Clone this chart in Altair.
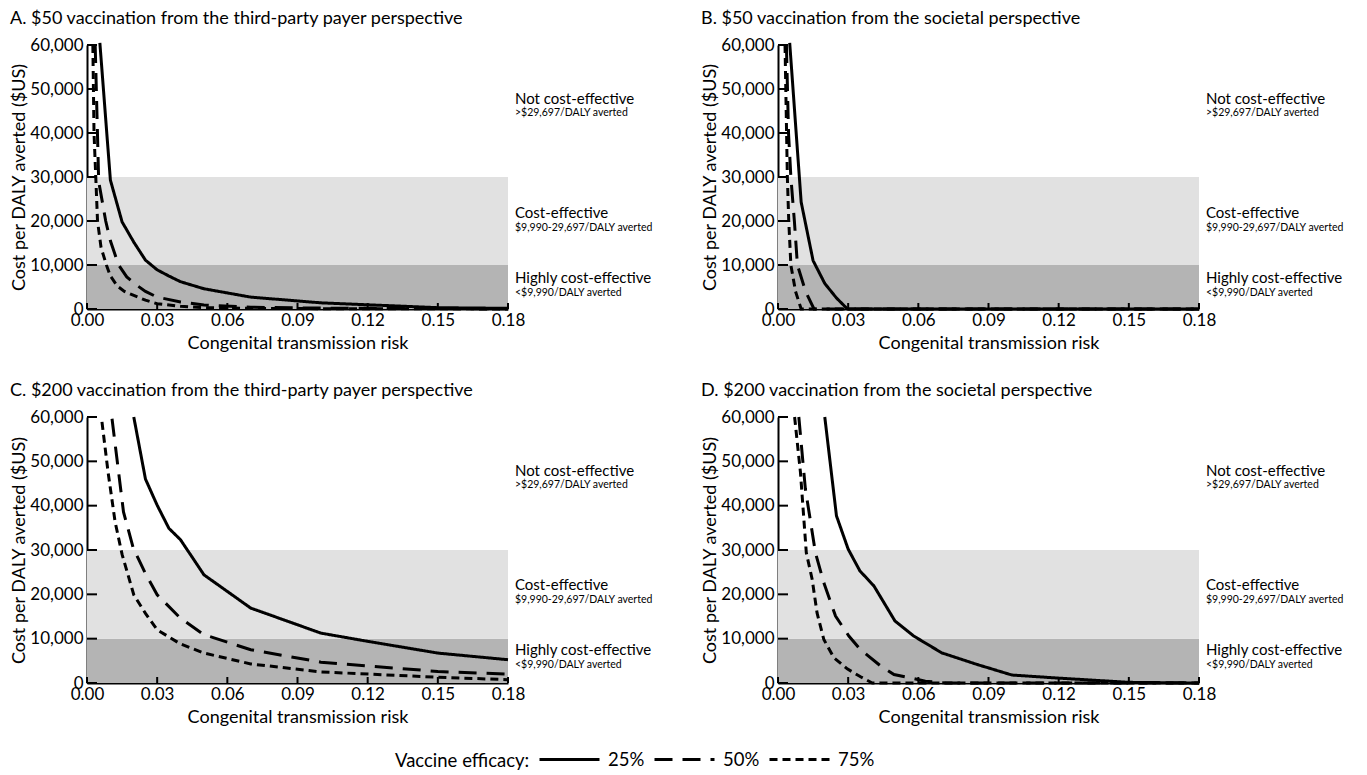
import altair as alt
import pandas as pd

FONT = "Lato"
W = 421
H_TOP = 264
H_BOT = 266

EFFICACY = ["25%", "50%", "75%"]
LEGEND_TITLE = "Vaccine efficacy:"

# Panel A: $50, third-party payer
a25_x = [0.0055, 0.010, 0.015, 0.020, 0.025, 0.030, 0.035, 0.040, 0.050, 0.070, 0.100, 0.150, 0.180]
a25_y = [60500, 29300, 19800, 15200, 11100, 8900, 7500, 6200, 4600, 2700, 1400, 300, 150]
a50_x = [0.0035, 0.005, 0.008, 0.010, 0.0135, 0.017, 0.021, 0.025, 0.030, 0.040, 0.050, 0.070, 0.100, 0.150, 0.180]
a50_y = [60000, 29000, 20000, 15500, 10000, 7300, 5500, 4000, 2700, 1600, 900, 400, 200, 100, 50]
a75_x = [0.0025, 0.003, 0.0045, 0.006, 0.0083, 0.010, 0.013, 0.016, 0.020, 0.025, 0.030, 0.040, 0.050, 0.070, 0.100, 0.150, 0.180]
a75_y = [60000, 40000, 20000, 14000, 10000, 7500, 5200, 4000, 3100, 2000, 1200, 600, 300, 150, 80, 40, 20]

# Panel B: $50, societal
b25_x = [0.005, 0.0099, 0.015, 0.020, 0.025, 0.0297, 0.060, 0.090, 0.120, 0.150, 0.180]
b25_y = [60500, 24300, 11000, 5800, 2500, 0, 0, 0, 0, 0, 0]
b50_x = [0.0036, 0.0045, 0.0055, 0.007, 0.0083, 0.0118, 0.0154, 0.060, 0.120, 0.180]
b50_y = [60000, 40000, 30000, 20000, 10000, 4000, 0, 0, 0, 0]
b75_x = [0.003, 0.004, 0.0046, 0.0055, 0.0075, 0.0099, 0.060, 0.120, 0.180]
b75_y = [60000, 30000, 20000, 10000, 4000, 0, 0, 0, 0]

# Panel C: $200, third-party payer
c25_x = [0.020, 0.025, 0.030, 0.035, 0.040, 0.050, 0.070, 0.100, 0.120, 0.150, 0.180]
c25_y = [60000, 46000, 40100, 34900, 32300, 24400, 16900, 11250, 9400, 6750, 5250]
c50_x = [0.0107, 0.0156, 0.0198, 0.0247, 0.030, 0.040, 0.050, 0.070, 0.100, 0.150, 0.180]
c50_y = [59600, 38600, 30400, 25000, 19900, 14600, 10900, 7500, 4700, 2600, 2000]
c75_x = [0.0064, 0.009, 0.012, 0.015, 0.020, 0.025, 0.030, 0.040, 0.050, 0.070, 0.100, 0.150, 0.180]
c75_y = [58900, 47600, 36400, 29000, 19900, 15700, 12000, 8800, 6750, 4300, 2500, 1300, 750]

# Panel D: $200, societal
d25_x = [0.020, 0.025, 0.030, 0.035, 0.041, 0.050, 0.058, 0.070, 0.085, 0.100, 0.120, 0.150, 0.180]
d25_y = [60000, 37700, 30200, 25300, 21900, 14000, 10600, 6800, 4200, 1800, 1100, 150, 0]
d50_x = [0.0089, 0.0117, 0.016, 0.0196, 0.0246, 0.0303, 0.0353, 0.044, 0.0496, 0.057, 0.063, 0.072, 0.120, 0.180]
d50_y = [60000, 43800, 29400, 22600, 15100, 10600, 7500, 3800, 1900, 1100, 400, 0, 0, 0]
d75_x = [0.0071, 0.0096, 0.0121, 0.0146, 0.0167, 0.0196, 0.0239, 0.0296, 0.0353, 0.0403, 0.100, 0.180]
d75_y = [60000, 47500, 29400, 23400, 15800, 9800, 5700, 3200, 1400, 0, 0, 0]

titles = [
    "A. $50 vaccination from the third-party payer perspective",
    "B. $50 vaccination from the societal perspective",
    "C. $200 vaccination from the third-party payer perspective",
    "D. $200 vaccination from the societal perspective",
]

x_ticks = [0.0, 0.03, 0.06, 0.09, 0.12, 0.15, 0.18]
y_ticks = [0, 10000, 20000, 30000, 40000, 50000, 60000]

band_names = ["Highly cost-effective", "Cost-effective"]
band_lo = [0, 10000]
band_hi = [10000, 30000]

zone_labels = ["Not cost-effective", "Cost-effective", "Highly cost-effective"]
zone_ranges = [">$29,697/DALY averted", "$9,990-29,697/DALY averted", "<$9,990/DALY averted"]

X_MAX = x_ticks[-1]
Y_MAX = y_ticks[-1]


def make_panel(title, series, H, legend_label=False):
    rows = []
    for eff, (xs, ys) in zip(EFFICACY, series):
        for xv, yv in zip(xs, ys):
            rows.append({"x": xv, "y": yv, "eff": eff})
    df = pd.DataFrame(rows)

    xscale = alt.Scale(domain=[0, X_MAX], nice=False)
    yscale = alt.Scale(domain=[0, Y_MAX], nice=False)
    xaxis = alt.Axis(values=x_ticks, format=".2f", title="Congenital transmission risk",
                     labelPadding=3, titlePadding=6, labelFlush=False)
    yaxis = alt.Axis(values=y_ticks, format=",.0f", title="Cost per DALY averted ($US)",
                     labelPadding=4, titlePadding=1, labelFlush=False)
    X = alt.X("x:Q", scale=xscale, axis=xaxis)
    Y = alt.Y("y:Q", scale=yscale, axis=yaxis)

    bands = pd.DataFrame({"x": [0.0, 0.0], "x2": [X_MAX, X_MAX],
                          "y": band_lo, "y2": band_hi, "band": band_names})
    band_layer = alt.Chart(bands).mark_rect().encode(
        x=X, x2="x2:Q", y=Y, y2="y2:Q",
        fill=alt.Fill("band:N", scale=alt.Scale(domain=band_names, range=["#b4b4b4", "#e1e1e1"]),
                      legend=None),
    )

    lines = alt.Chart(df).mark_line(color="black", strokeWidth=3, strokeCap="butt").encode(
        x=X, y=Y,
        strokeDash=alt.StrokeDash(
            "eff:N",
            scale=alt.Scale(domain=EFFICACY, range=[[1, 0], [18, 10], [8, 5]]),
            legend=alt.Legend(title=None),
        ),
    )

    yt = alt.Chart(pd.DataFrame({"y": y_ticks})).mark_rule(color="black", strokeWidth=2).encode(
        y=Y, x=alt.value(0), x2=alt.value(10))
    xt = alt.Chart(pd.DataFrame({"x": x_ticks})).mark_rule(color="black", strokeWidth=2).encode(
        x=X, y=alt.value(H), y2=alt.value(H - 6))

    big_y = [54, 168, 233]
    small_y = [68, 183, 248]
    texts = []
    for lab, py in zip(zone_labels, big_y):
        texts.append(alt.Chart(pd.DataFrame({"t": [lab]})).mark_text(
            align="left", baseline="middle", fontSize=15, font=FONT, color="black").encode(
            x=alt.value(W + 7), y=alt.value(py), text="t:N"))
    for lab, py in zip(zone_ranges, small_y):
        texts.append(alt.Chart(pd.DataFrame({"t": [lab]})).mark_text(
            align="left", baseline="middle", fontSize=10.5, font=FONT, color="black").encode(
            x=alt.value(W + 7), y=alt.value(py), text="t:N"))
    if legend_label:
        texts.append(alt.Chart(pd.DataFrame({"t": [LEGEND_TITLE]})).mark_text(
            align="left", baseline="middle", fontSize=18.5, font=FONT, color="black").encode(
            x=alt.value(308), y=alt.value(H + 78), text="t:N"))

    return alt.layer(band_layer, lines, yt, xt, *texts).properties(
        width=W, height=H,
        title=alt.TitleParams(title, anchor="start", frame="group", dx=-77, offset=8,
                              fontSize=18, fontWeight="normal", font=FONT, color="black"),
    )


pA = make_panel(titles[0], [(a25_x, a25_y), (a50_x, a50_y), (a75_x, a75_y)], H_TOP)
pB = make_panel(titles[1], [(b25_x, b25_y), (b50_x, b50_y), (b75_x, b75_y)], H_TOP)
pC = make_panel(titles[2], [(c25_x, c25_y), (c50_x, c50_y), (c75_x, c75_y)], H_BOT, legend_label=True)
pD = make_panel(titles[3], [(d25_x, d25_y), (d50_x, d50_y), (d75_x, d75_y)], H_BOT)

top = alt.HConcatChart(hconcat=[pA, pB], spacing=270, bounds="flush")
bot = alt.HConcatChart(hconcat=[pC, pD], spacing=270, bounds="flush")
chart = alt.VConcatChart(vconcat=[top, bot], spacing=H_TOP + 108, bounds="flush").properties(
    padding={"left": 2, "top": 2, "right": 5, "bottom": 5}
).configure_view(stroke=None).configure_axis(
    grid=False, ticks=False, domainColor="black", domainWidth=2,
    labelFont=FONT, labelFontSize=17, labelColor="black",
    titleFont=FONT, titleFontSize=18, titleFontWeight="normal", titleColor="black",
).configure_legend(
    orient="none", legendX=451, legendY=683, direction="horizontal",
    labelFont=FONT, labelFontSize=18.5, labelColor="black", labelOffset=7,
    symbolType="stroke", symbolSize=3600, symbolStrokeWidth=3, symbolStrokeColor="black",
    columnPadding=3,
)

chart.save("out.html", embed_options={"renderer": "svg", "actions": False})
